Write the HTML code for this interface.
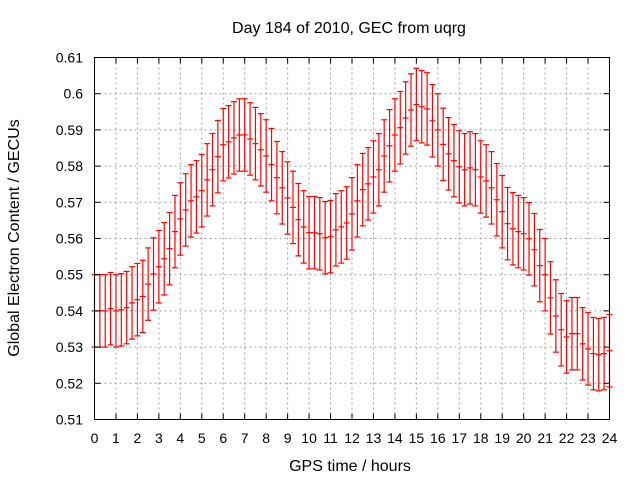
<!DOCTYPE html>
<html><head><meta charset="utf-8"><style>
body{margin:0;background:#fff;}
svg text{font-family:"Liberation Sans",Arial,sans-serif;font-size:14px;fill:#000;}
svg text.big{font-size:16px;}
</style></head><body>
<svg id="chart" width="640" height="480" viewBox="0 0 640 480" xmlns="http://www.w3.org/2000/svg">
<rect x="0" y="0" width="640" height="480" fill="#fff"/>
<g id="grid"></g>
<g id="bars"></g>
<g id="axes"></g>
<text class="big" x="349" y="33" text-anchor="middle">Day 184 of 2010, GEC from uqrg</text>
<text class="big" x="350" y="471" text-anchor="middle">GPS time / hours</text>
<text class="big" x="0" y="0" text-anchor="middle" transform="translate(19,238) rotate(-90)">Global Electron Content / GECUs</text>
</svg>
<script>
const xTicks=[0,1,2,3,4,5,6,7,8,9,10,11,12,13,14,15,16,17,18,19,20,21,22,23,24];
const yTicks=[0.51,0.52,0.53,0.54,0.55,0.56,0.57,0.58,0.59,0.6,0.61];
const yTickLabels=["0.51","0.52","0.53","0.54","0.55","0.56","0.57","0.58","0.59","0.6","0.61"];
const gecValues=[0.5400,0.5400,0.5400,0.5406,0.5400,0.5403,0.5409,0.5422,0.5431,0.5440,
0.5474,0.5502,0.5522,0.5544,0.5572,0.5619,0.5654,0.5679,0.5704,0.5715,
0.5732,0.5762,0.5790,0.5826,0.5859,0.5867,0.5878,0.5886,0.5886,0.5875,
0.5862,0.5845,0.5828,0.5804,0.5768,0.5740,0.5712,0.5686,0.5652,0.5632,
0.5616,0.5616,0.5613,0.5602,0.5605,0.5624,0.5632,0.5643,0.5668,0.5704,
0.5735,0.5751,0.5770,0.5790,0.5828,0.5856,0.5886,0.5906,0.5933,0.5955,
0.5970,0.5964,0.5958,0.5925,0.5900,0.5860,0.5834,0.5815,0.5798,0.5790,
0.5795,0.5790,0.5770,0.5759,0.5740,0.5707,0.5674,0.5641,0.5627,0.5619,
0.5613,0.5599,0.5569,0.5525,0.5500,0.5436,0.5386,0.5348,0.5328,0.5337,
0.5337,0.5309,0.5295,0.5282,0.5279,0.5282,0.5290];
const gecErrors=gecValues.map(()=>0.01);
const hours=gecValues.map((v,i)=>i*0.25);

const NS="http://www.w3.org/2000/svg";
const L=94.5,R=609.5,T=57.5,B=419.5;
const xs=h=>L+(h-0)/(24-0)*(R-L);
const ys=v=>B-(v-0.51)/(0.61-0.51)*(B-T);
function mk(tag,attrs,parent){const e=document.createElementNS(NS,tag);for(const k in attrs)e.setAttribute(k,attrs[k]);parent.appendChild(e);return e;}
const grid=document.getElementById('grid'),axes=document.getElementById('axes'),bars=document.getElementById('bars');
xTicks.forEach(t=>{
  const x=xs(t);
  if(t>0&&t<24){const g=mk('line',{x1:x,y1:T,x2:x,y2:B,stroke:'#a0a0a0','stroke-width':1,'stroke-dasharray':'2,3'},grid);
  
  }
  mk('line',{x1:x,y1:B,x2:x,y2:B-6,stroke:'#000'},axes);
  mk('line',{x1:x,y1:T,x2:x,y2:T+6,stroke:'#000'},axes);
  const tx=mk('text',{x:x,y:443,'text-anchor':'middle'},axes);
  tx.textContent=t;
  
  
});
yTicks.forEach((t,i)=>{
  const y=ys(t);
  if(i>0&&i<yTicks.length-1){const g=mk('line',{x1:L,y1:y,x2:R,y2:y,stroke:'#a0a0a0','stroke-width':1,'stroke-dasharray':'2,3'},grid);
  
  }
  mk('line',{x1:L,y1:y,x2:L+6,y2:y,stroke:'#000'},axes);
  mk('line',{x1:R,y1:y,x2:R-6,y2:y,stroke:'#000'},axes);
  const tx=mk('text',{x:83,y:y+5,'text-anchor':'end'},axes);
  tx.textContent=yTickLabels[i];
  
  
});
const frame=mk('rect',{x:L,y:T,width:R-L,height:B-T,fill:'none',stroke:'#000','stroke-width':1},axes);


gecValues.forEach((v,i)=>{
  const x=xs(hours[i]),y0=ys(v-gecErrors[i]),y1=ys(v+gecErrors[i]),yc=ys(v);
  const g=mk('g',{stroke:'#ff0000','stroke-width':1.2},bars);
  
  
  mk('line',{x1:x,y1:y0,x2:x,y2:y1},g);
  mk('line',{x1:x-3,y1:y0,x2:x+3,y2:y0},g);
  mk('line',{x1:x-3,y1:y1,x2:x+3,y2:y1},g);
  mk('line',{x1:x-3,y1:yc,x2:x+3,y2:yc},g);
});
</script>
</body></html>
